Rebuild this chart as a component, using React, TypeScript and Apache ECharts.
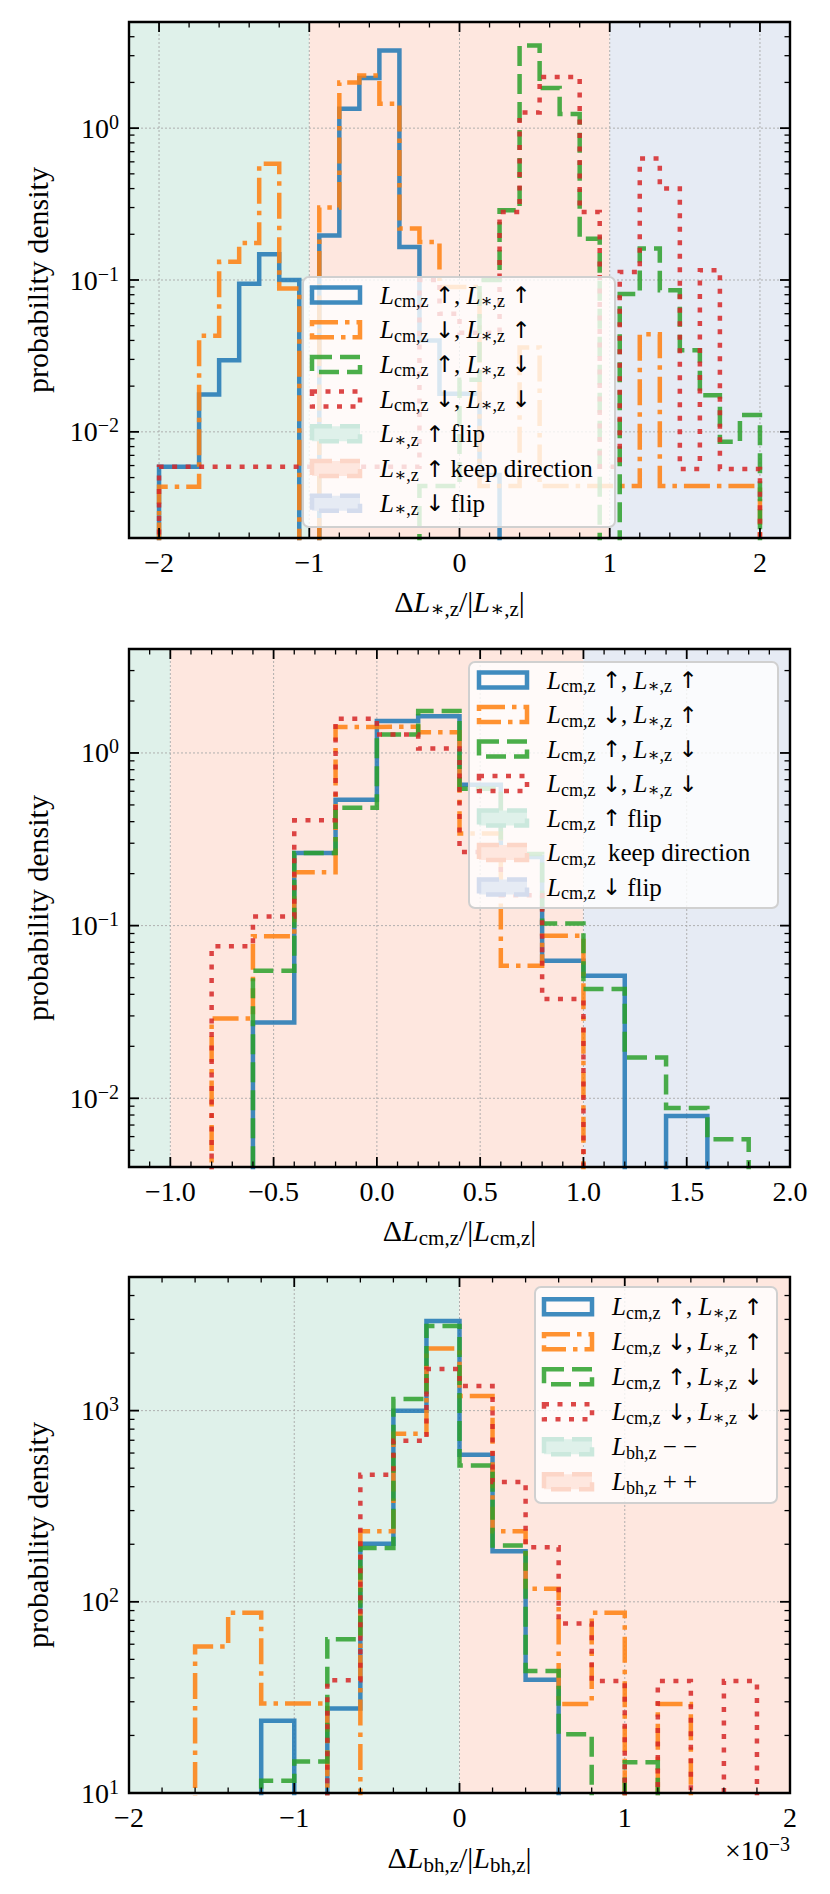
import React, { useEffect, useRef } from "react";
import * as echarts from "echarts";

const FONT = '"Liberation Serif", "DejaVu Serif", serif';
const ARROW_FONT = '"DejaVu Sans", "Liberation Serif", serif';

const BLUE = "#1f77b4";
const ORANGE = "#ff7f0e";
const GREEN = "#2ca02c";
const RED = "#d62728";

const SHADE_TEAL = "rgb(223,241,234)";
const SHADE_ORANGE = "rgb(254,231,223)";
const SHADE_BLUE = "rgb(230,235,244)";
const EDGE_TEAL = "rgb(203,232,221)";
const EDGE_ORANGE = "rgb(252,214,200)";
const EDGE_BLUE = "rgb(212,220,237)";

const LW = 4.5;
const DASH_ORANGE = [26, 7, 4.5, 7];
const DASH_GREEN = [20, 8];
const DASH_RED = [5, 8.5];

// ---------------- Panel 1: ΔL*,z/|L*,z| ----------------
const P1_BIN_START = -2;
const P1_BIN_WIDTH = 4 / 30;
const P1_BLUE = [0.0059, 0.0059, 0.0176, 0.0296, 0.0946, 0.148, 0.1, 0, 0.196, 1.34, 2.14, 3.24, 0.165, 0.04, 0.0178, 0.0178, 0.0052, 0, 0, 0, 0, 0, 0, 0, 0, 0, 0, 0, 0, 0];
const P1_ORANGE = [0.00435, 0.00435, 0.043, 0.132, 0.175, 0.583, 0.088, 0, 0.3, 2.0, 2.22, 1.45, 0.218, 0.178, 0.09, 0.09, 0.0044, 0.0044, 0.036, 0.0044, 0.0044, 0.0044, 0.0044, 0.0044, 0.044, 0.0044, 0.0044, 0.0044, 0.0044, 0.0044];
const P1_GREEN = [0, 0, 0, 0, 0, 0, 0, 0, 0, 0, 0, 0, 0, 0.0044, 0.0044, 0.022, 0.1, 0.288, 3.5, 1.84, 1.24, 0.187, 0, 0.081, 0.161, 0.0855, 0.0345, 0.0174, 0.0086, 0.0129];
const P1_RED = [0.0059, 0.0059, 0.0059, 0.0059, 0.0059, 0.0059, 0.0059, 0.0059, 0.0059, 0.0059, 0.0059, 0.0059, 0.0059, 0.1, 0.06, 0.045, 0.045, 0.28, 1.27, 2.17, 2.17, 0.28, 0.0059, 0.113, 0.63, 0.4, 0.0057, 0.116, 0.0057, 0.0057];
const P1_X_RANGE = [-2.2, 2.2];
const P1_Y_RANGE = [0.002, 5];
const P1_X_TICKS = [-2, -1, 0, 1, 2];
const P1_X_TICK_LABELS = ["−2", "−1", "0", "1", "2"];
const P1_X_MINOR_STEP = 0.2;
const P1_REGIONS = [[-2.2, -1], [-1, 1], [1, 2.2]];
const P1_REGION_COLORS = [SHADE_TEAL, SHADE_ORANGE, SHADE_BLUE];
const P1_XLABEL = "{n|Δ}{L|L}{s|∗,z}{n|/|}{L|L}{s|∗,z}{n||}";
const P1_LEGEND = [
  "{L|L}{s|cm,z}{n| }{a|↑}{n|, }{L|L}{s|∗,z}{n| }{a|↑}",
  "{L|L}{s|cm,z}{n| }{a|↓}{n|, }{L|L}{s|∗,z}{n| }{a|↑}",
  "{L|L}{s|cm,z}{n| }{a|↑}{n|, }{L|L}{s|∗,z}{n| }{a|↓}",
  "{L|L}{s|cm,z}{n| }{a|↓}{n|, }{L|L}{s|∗,z}{n| }{a|↓}",
  "{L|L}{s|∗,z}{n| }{a|↑}{n| flip}",
  "{L|L}{s|∗,z}{n| }{a|↑}{n| keep direction}",
  "{L|L}{s|∗,z}{n| }{a|↓}{n| flip}",
];

// ---------------- Panel 2: ΔLcm,z/|Lcm,z| ----------------
const P2_BIN_START = -0.8;
const P2_BIN_WIDTH = 0.2;
const P2_BLUE = [0, 0.0275, 0.263, 0.536, 1.53, 1.63, 0.655, 0.25, 0.0626, 0.0513, 0, 0.0079, 0];
const P2_ORANGE = [0.029, 0.0867, 0.204, 1.415, 1.42, 1.32, 0.342, 0.0586, 0.0875, 0, 0, 0, 0];
const P2_GREEN = [0, 0.0548, 0.263, 0.482, 1.28, 1.75, 0.62, 0.26, 0.103, 0.0429, 0.0172, 0.0088, 0.0058];
const P2_RED = [0.0759, 0.113, 0.407, 1.58, 1.28, 1.06, 0.267, 0.15, 0.0376, 0, 0, 0, 0];
const P2_X_RANGE = [-1.2, 2.0];
const P2_Y_RANGE = [0.004, 4];
const P2_X_TICKS = [-1, -0.5, 0, 0.5, 1, 1.5, 2];
const P2_X_TICK_LABELS = ["−1.0", "−0.5", "0.0", "0.5", "1.0", "1.5", "2.0"];
const P2_X_MINOR_STEP = 0.1;
const P2_REGIONS = [[-1.2, -1], [-1, 1], [1, 2.0]];
const P2_REGION_COLORS = [SHADE_TEAL, SHADE_ORANGE, SHADE_BLUE];
const P2_XLABEL = "{n|Δ}{L|L}{s|cm,z}{n|/|}{L|L}{s|cm,z}{n||}";
const P2_LEGEND = [
  "{L|L}{s|cm,z}{n| }{a|↑}{n|, }{L|L}{s|∗,z}{n| }{a|↑}",
  "{L|L}{s|cm,z}{n| }{a|↓}{n|, }{L|L}{s|∗,z}{n| }{a|↑}",
  "{L|L}{s|cm,z}{n| }{a|↑}{n|, }{L|L}{s|∗,z}{n| }{a|↓}",
  "{L|L}{s|cm,z}{n| }{a|↓}{n|, }{L|L}{s|∗,z}{n| }{a|↓}",
  "{L|L}{s|cm,z}{n| }{a|↑}{n| flip}",
  "{L|L}{s|cm,z}{n|  keep direction}",
  "{L|L}{s|cm,z}{n| }{a|↓}{n| flip}",
];

// ---------------- Panel 3: ΔLbh,z/|Lbh,z| (units of 1e-3) ----------------
const P3_BIN_START = -1.6;
const P3_BIN_WIDTH = 0.2;
const P3_BLUE = [0, 0, 23.9, 0, 27.7, 201, 1000, 2943, 588, 184, 39.1, 0, 0, 0, 0, 0, 0];
const P3_ORANGE = [58.3, 87.7, 29.4, 29.4, 0, 234, 756, 2115, 1193, 234, 117, 29.2, 87.7, 0, 29.2, 0, 0];
const P3_GREEN = [0, 0, 11.6, 14.6, 63.7, 191, 1151, 2774, 516, 197, 43.5, 20.3, 0, 14.5, 0, 0, 0];
const P3_RED = [0, 0, 0, 0, 38.9, 462, 695, 1652, 1345, 423, 193, 77.1, 38.5, 0, 38.5, 0, 38.5];
const P3_X_RANGE = [-2, 2];
const P3_Y_RANGE = [10, 5000];
const P3_X_TICKS = [-2, -1, 0, 1, 2];
const P3_X_TICK_LABELS = ["−2", "−1", "0", "1", "2"];
const P3_X_MINOR_STEP = 0.2;
const P3_REGIONS = [[-2, 0], [0, 2]];
const P3_REGION_COLORS = [SHADE_TEAL, SHADE_ORANGE];
const P3_XLABEL = "{n|Δ}{L|L}{s|bh,z}{n|/|}{L|L}{s|bh,z}{n||}";
const P3_LEGEND = [
  "{L|L}{s|cm,z}{n| }{a|↑}{n|, }{L|L}{s|∗,z}{n| }{a|↑}",
  "{L|L}{s|cm,z}{n| }{a|↓}{n|, }{L|L}{s|∗,z}{n| }{a|↑}",
  "{L|L}{s|cm,z}{n| }{a|↑}{n|, }{L|L}{s|∗,z}{n| }{a|↓}",
  "{L|L}{s|cm,z}{n| }{a|↓}{n|, }{L|L}{s|∗,z}{n| }{a|↓}",
  "{L|L}{s|bh,z}{n| − −}",
  "{L|L}{s|bh,z}{n| + +}",
];

const Y_TICKS_12 = [0.01, 0.1, 1];
const Y_TICK_LABELS_12 = ["−2", "−1", "0"];
const Y_TICKS_3 = [10, 100, 1000];
const Y_TICK_LABELS_3 = ["1", "2", "3"];

const YLABEL = "probability density";

// ---------------- helpers ----------------
const RICH_TICK = {
  b: { fontFamily: FONT, fontSize: 28, lineHeight: 33, fill: "#000" },
  p: { fontFamily: FONT, fontSize: 20, lineHeight: 20, verticalAlign: "top", fill: "#000" },
};
const RICH_TITLE = {
  n: { fontFamily: FONT, fontSize: 30, lineHeight: 36, fill: "#000" },
  L: { fontFamily: FONT, fontSize: 30, lineHeight: 36, fontStyle: "italic", fill: "#000" },
  s: { fontFamily: FONT, fontSize: 21, lineHeight: 21, verticalAlign: "bottom", fill: "#000" },
};
const RICH_LEG = {
  n: { fontFamily: FONT, fontSize: 25, lineHeight: 30, fill: "#000" },
  a: { fontFamily: ARROW_FONT, fontSize: 23, lineHeight: 30, fill: "#000" },
  L: { fontFamily: FONT, fontSize: 25, lineHeight: 30, fontStyle: "italic", fill: "#000" },
  s: { fontFamily: FONT, fontSize: 18, lineHeight: 18, verticalAlign: "bottom", fill: "#000" },
};

function stepPoints(start: number, width: number, vals: number[], floor: number) {
  const pts: number[][] = [];
  const n = vals.length;
  pts.push([start, floor]);
  for (let i = 0; i < n; i++) {
    const v = vals[i] > 0 ? vals[i] : floor;
    pts.push([start + i * width, v]);
    pts.push([start + (i + 1) * width, v]);
  }
  pts.push([start + n * width, floor]);
  return pts;
}

function linMinor(min: number, max: number, step: number, majors: number[]) {
  const out: number[] = [];
  for (let k = Math.ceil(min / step - 1e-9); k * step <= max + 1e-9; k++) {
    const v = Math.round(k * step * 1e6) / 1e6;
    if (v <= min + 1e-9 || v >= max - 1e-9) continue;
    if (majors.some((m) => Math.abs(m - v) < 1e-9)) continue;
    out.push(v);
  }
  return out;
}

function logMinor(min: number, max: number) {
  const out: number[] = [];
  for (let e = Math.floor(Math.log10(min)); e <= Math.ceil(Math.log10(max)); e++) {
    for (let m = 2; m <= 9; m++) {
      const v = m * Math.pow(10, e);
      if (v > min * 1.0001 && v < max * 0.9999) out.push(v);
    }
  }
  return out;
}

type Panel = {
  xMin: number; xMax: number; yMin: number; yMax: number;
  xMajor: number[]; xLabels: string[]; xMinor: number[];
  yMajor: number[]; yLabels: string[]; yMinor: number[];
};

function shadeSeries(gi: number, p: Panel, regions: number[][], colors: string[]) {
  return {
    type: "custom", xAxisIndex: gi, yAxisIndex: gi, z: 0, silent: true, clip: false,
    data: regions.map((r) => [r[0], p.yMin]),
    renderItem: (params: any, api: any) => {
      const r = regions[params.dataIndex];
      const a = api.coord([r[0], p.yMax]);
      const b = api.coord([r[1], p.yMin]);
      return { type: "rect", shape: { x: a[0], y: a[1], width: b[0] - a[0], height: b[1] - a[1] }, style: { fill: colors[params.dataIndex] } };
    },
  };
}

function gridSeries(gi: number, p: Panel) {
  const items: { k: string; v: number }[] = [];
  p.xMajor.forEach((v) => { if (v > p.xMin + 1e-9 && v < p.xMax - 1e-9) items.push({ k: "x", v }); });
  p.yMajor.forEach((v) => { if (v > p.yMin * 1.0001 && v < p.yMax * 0.9999) items.push({ k: "y", v }); });
  return {
    type: "custom", xAxisIndex: gi, yAxisIndex: gi, z: 1, silent: true, clip: false,
    data: items.map((it) => (it.k === "x" ? [it.v, p.yMin] : [p.xMin, it.v])),
    renderItem: (params: any, api: any) => {
      const it = items[params.dataIndex];
      const tl = api.coord([p.xMin, p.yMax]);
      const br = api.coord([p.xMax, p.yMin]);
      const style = { stroke: "#a8a8a8", lineWidth: 0.9, lineDash: [2, 2] };
      if (it.k === "x") {
        const x = api.coord([it.v, p.yMin])[0];
        return { type: "line", shape: { x1: x, y1: tl[1], x2: x, y2: br[1] }, style };
      }
      const y = api.coord([p.xMin, it.v])[1];
      return { type: "line", shape: { x1: tl[0], y1: y, x2: br[0], y2: y }, style };
    },
  };
}

function frameSeries(gi: number, p: Panel) {
  const items: { k: string; v: number; label?: string }[] = [];
  p.xMajor.forEach((v, i) => items.push({ k: "xM", v, label: p.xLabels[i] }));
  p.xMinor.forEach((v) => items.push({ k: "xm", v }));
  p.yMajor.forEach((v, i) => items.push({ k: "yM", v, label: p.yLabels[i] }));
  p.yMinor.forEach((v) => items.push({ k: "ym", v }));
  items.push({ k: "border", v: 0 });
  return {
    type: "custom", xAxisIndex: gi, yAxisIndex: gi, z: 10, silent: true, clip: false,
    data: items.map((it) => (it.k[0] === "x" ? [it.v, p.yMin] : [p.xMin, it.k === "border" ? p.yMin : it.v])),
    renderItem: (params: any, api: any) => {
      const it = items[params.dataIndex];
      const tl = api.coord([p.xMin, p.yMax]);
      const br = api.coord([p.xMax, p.yMin]);
      const left = tl[0], top = tl[1], right = br[0], bottom = br[1];
      if (it.k === "border") {
        return { type: "rect", shape: { x: left, y: top, width: right - left, height: bottom - top }, style: { fill: "none", stroke: "#000", lineWidth: 2.4 } };
      }
      const major = it.k === "xM" || it.k === "yM";
      const len = major ? 10 : 5.5;
      const tstyle = { stroke: "#000", lineWidth: major ? 1.8 : 1.3 };
      const children: any[] = [];
      if (it.k[0] === "x") {
        const x = api.coord([it.v, p.yMin])[0];
        children.push({ type: "line", shape: { x1: x, y1: bottom, x2: x, y2: bottom - len }, style: tstyle });
        children.push({ type: "line", shape: { x1: x, y1: top, x2: x, y2: top + len }, style: tstyle });
        if (it.label) {
          children.push({ type: "text", x, y: bottom + 24, style: { text: it.label, align: "center", verticalAlign: "middle", fontSize: 28, fontFamily: FONT, fill: "#000" } });
        }
      } else {
        const y = api.coord([p.xMin, it.v])[1];
        children.push({ type: "line", shape: { x1: left, y1: y, x2: left + len, y2: y }, style: tstyle });
        children.push({ type: "line", shape: { x1: right, y1: y, x2: right - len, y2: y }, style: tstyle });
        if (it.label) {
          children.push({ type: "text", x: left - 10, y, style: { text: "{b|10}{p|" + it.label + "}", rich: RICH_TICK, align: "right", verticalAlign: "middle", fill: "#000", fontFamily: FONT } });
        }
      }
      return { type: "group", children };
    },
  };
}

function histSeries(gi: number, start: number, width: number, vals: number[], floor: number, color: string, dash: number[] | null) {
  return {
    type: "line", xAxisIndex: gi, yAxisIndex: gi, z: 3, silent: true, symbol: "none", showSymbol: false, clip: true,
    data: stepPoints(start, width, vals, floor),
    lineStyle: { color, width: LW, type: dash ? dash : "solid", opacity: 0.85, cap: "butt", join: "miter" },
  };
}

type LegEntry = { kind: "line" | "patch"; color: string; edge?: string; dash?: number[] };
const LINE_ENTRIES: LegEntry[] = [
  { kind: "line", color: BLUE },
  { kind: "line", color: ORANGE, dash: DASH_ORANGE },
  { kind: "line", color: GREEN, dash: DASH_GREEN },
  { kind: "line", color: RED, dash: DASH_RED },
];
const PATCH3: LegEntry[] = [
  { kind: "patch", color: SHADE_TEAL, edge: EDGE_TEAL },
  { kind: "patch", color: SHADE_ORANGE, edge: EDGE_ORANGE },
  { kind: "patch", color: SHADE_BLUE, edge: EDGE_BLUE },
];

function legendElements(box: { x: number; y: number; w: number; h: number }, handleX: number, textX: number, row0: number, step: number, entries: LegEntry[], labels: string[]) {
  const els: any[] = [];
  els.push({ type: "rect", z: 100, shape: { x: box.x, y: box.y, width: box.w, height: box.h, r: 6 }, style: { fill: "rgba(255,255,255,0.8)", stroke: "#d0d0d0", lineWidth: 2 } });
  entries.forEach((e, i) => {
    const cy = row0 + i * step;
    if (e.kind === "line") {
      els.push({ type: "rect", z: 101, shape: { x: handleX, y: cy - 7.5, width: 48, height: 15 }, style: { fill: "none", stroke: e.color, lineWidth: LW, lineDash: e.dash, opacity: 0.85 } });
    } else {
      els.push({ type: "rect", z: 101, shape: { x: handleX, y: cy - 7.5, width: 48, height: 15 }, style: { fill: e.color, stroke: e.edge, lineWidth: LW, lineDash: DASH_GREEN } });
    }
    els.push({ type: "text", z: 101, x: textX, y: cy, style: { text: labels[i], rich: RICH_LEG, align: "left", verticalAlign: "middle", fill: "#000", fontFamily: FONT, fontSize: 25 } });
  });
  return els;
}

function titleText(x: number, y: number, text: string, rotate = false) {
  return {
    type: "text", z: 100, x, y, rotation: rotate ? Math.PI / 2 : 0,
    style: { text, rich: RICH_TITLE, align: "center", verticalAlign: "middle", fill: "#000", fontFamily: FONT, fontSize: 30 },
  };
}

export default function App() {
  const ref = useRef<HTMLDivElement>(null);
  useEffect(() => {
    if (!ref.current) return;
    const chart = echarts.init(ref.current, undefined, { renderer: "svg" });

    const panels: Panel[] = [
      { xMin: P1_X_RANGE[0], xMax: P1_X_RANGE[1], yMin: P1_Y_RANGE[0], yMax: P1_Y_RANGE[1], xMajor: P1_X_TICKS, xLabels: P1_X_TICK_LABELS, xMinor: linMinor(P1_X_RANGE[0], P1_X_RANGE[1], P1_X_MINOR_STEP, P1_X_TICKS), yMajor: Y_TICKS_12, yLabels: Y_TICK_LABELS_12, yMinor: logMinor(P1_Y_RANGE[0], P1_Y_RANGE[1]) },
      { xMin: P2_X_RANGE[0], xMax: P2_X_RANGE[1], yMin: P2_Y_RANGE[0], yMax: P2_Y_RANGE[1], xMajor: P2_X_TICKS, xLabels: P2_X_TICK_LABELS, xMinor: linMinor(P2_X_RANGE[0], P2_X_RANGE[1], P2_X_MINOR_STEP, P2_X_TICKS), yMajor: Y_TICKS_12, yLabels: Y_TICK_LABELS_12, yMinor: logMinor(P2_Y_RANGE[0], P2_Y_RANGE[1]) },
      { xMin: P3_X_RANGE[0], xMax: P3_X_RANGE[1], yMin: P3_Y_RANGE[0], yMax: P3_Y_RANGE[1], xMajor: P3_X_TICKS, xLabels: P3_X_TICK_LABELS, xMinor: linMinor(P3_X_RANGE[0], P3_X_RANGE[1], P3_X_MINOR_STEP, P3_X_TICKS), yMajor: Y_TICKS_3, yLabels: Y_TICK_LABELS_3, yMinor: logMinor(P3_Y_RANGE[0], P3_Y_RANGE[1]) },
    ];

    const grids = [
      { left: 129, top: 22, width: 661, height: 516 },
      { left: 129, top: 649, width: 661, height: 518 },
      { left: 129, top: 1277, width: 661, height: 516 },
    ];

    const hidden = { axisLine: { show: false }, axisTick: { show: false }, axisLabel: { show: false }, splitLine: { show: false } };
    const xAxis = panels.map((p, i) => ({ type: "value", gridIndex: i, min: p.xMin, max: p.xMax, ...hidden }));
    const yAxis = panels.map((p, i) => ({ type: "log", logBase: 10, gridIndex: i, min: p.yMin, max: p.yMax, ...hidden }));

    const hists = [
      { start: P1_BIN_START, width: P1_BIN_WIDTH, sets: [P1_BLUE, P1_ORANGE, P1_GREEN, P1_RED] },
      { start: P2_BIN_START, width: P2_BIN_WIDTH, sets: [P2_BLUE, P2_ORANGE, P2_GREEN, P2_RED] },
      { start: P3_BIN_START, width: P3_BIN_WIDTH, sets: [P3_BLUE, P3_ORANGE, P3_GREEN, P3_RED] },
    ];
    const styles: [string, number[] | null][] = [[BLUE, null], [ORANGE, DASH_ORANGE], [GREEN, DASH_GREEN], [RED, DASH_RED]];

    const series: any[] = [];
    series.push(shadeSeries(0, panels[0], P1_REGIONS, P1_REGION_COLORS));
    series.push(shadeSeries(1, panels[1], P2_REGIONS, P2_REGION_COLORS));
    series.push(shadeSeries(2, panels[2], P3_REGIONS, P3_REGION_COLORS));
    panels.forEach((p, i) => series.push(gridSeries(i, p)));
    hists.forEach((h, gi) => {
      h.sets.forEach((vals, k) => {
        series.push(histSeries(gi, h.start, h.width, vals, panels[gi].yMin * 1e-3, styles[k][0], styles[k][1]));
      });
    });
    panels.forEach((p, i) => series.push(frameSeries(i, p)));

    const graphic: any[] = [
      ...legendElements({ x: 303, y: 277, w: 312, h: 250 }, 312, 380, 295, 34.7, [...LINE_ENTRIES, ...PATCH3], P1_LEGEND),
      ...legendElements({ x: 469, y: 662, w: 309, h: 246 }, 479, 547, 680, 34.5, [...LINE_ENTRIES, ...PATCH3], P2_LEGEND),
      ...legendElements({ x: 535, y: 1287, w: 242, h: 216 }, 544, 612, 1306.7, 35, [...LINE_ENTRIES, PATCH3[0], PATCH3[1]], P3_LEGEND),
      titleText(459.5, 601, P1_XLABEL),
      titleText(459.5, 1230, P2_XLABEL),
      titleText(459.5, 1857, P3_XLABEL),
      titleText(37, 280, "{n|" + YLABEL + "}", true),
      titleText(37, 908, "{n|" + YLABEL + "}", true),
      titleText(37, 1535, "{n|" + YLABEL + "}", true),
      {
        type: "text", z: 100, x: 790, y: 1850,
        style: { text: "{b|×10}{p|−3}", rich: RICH_TICK, align: "right", verticalAlign: "middle", fill: "#000", fontFamily: FONT },
      },
    ];

    chart.setOption({
      animation: false,
      backgroundColor: "#ffffff",
      textStyle: { fontFamily: FONT },
      grid: grids,
      xAxis,
      yAxis,
      series,
      graphic,
    });
    return () => chart.dispose();
  }, []);
  return <div ref={ref} style={{ position: "absolute", left: 0, top: 0, width: 830, height: 1894 }} />;
}
